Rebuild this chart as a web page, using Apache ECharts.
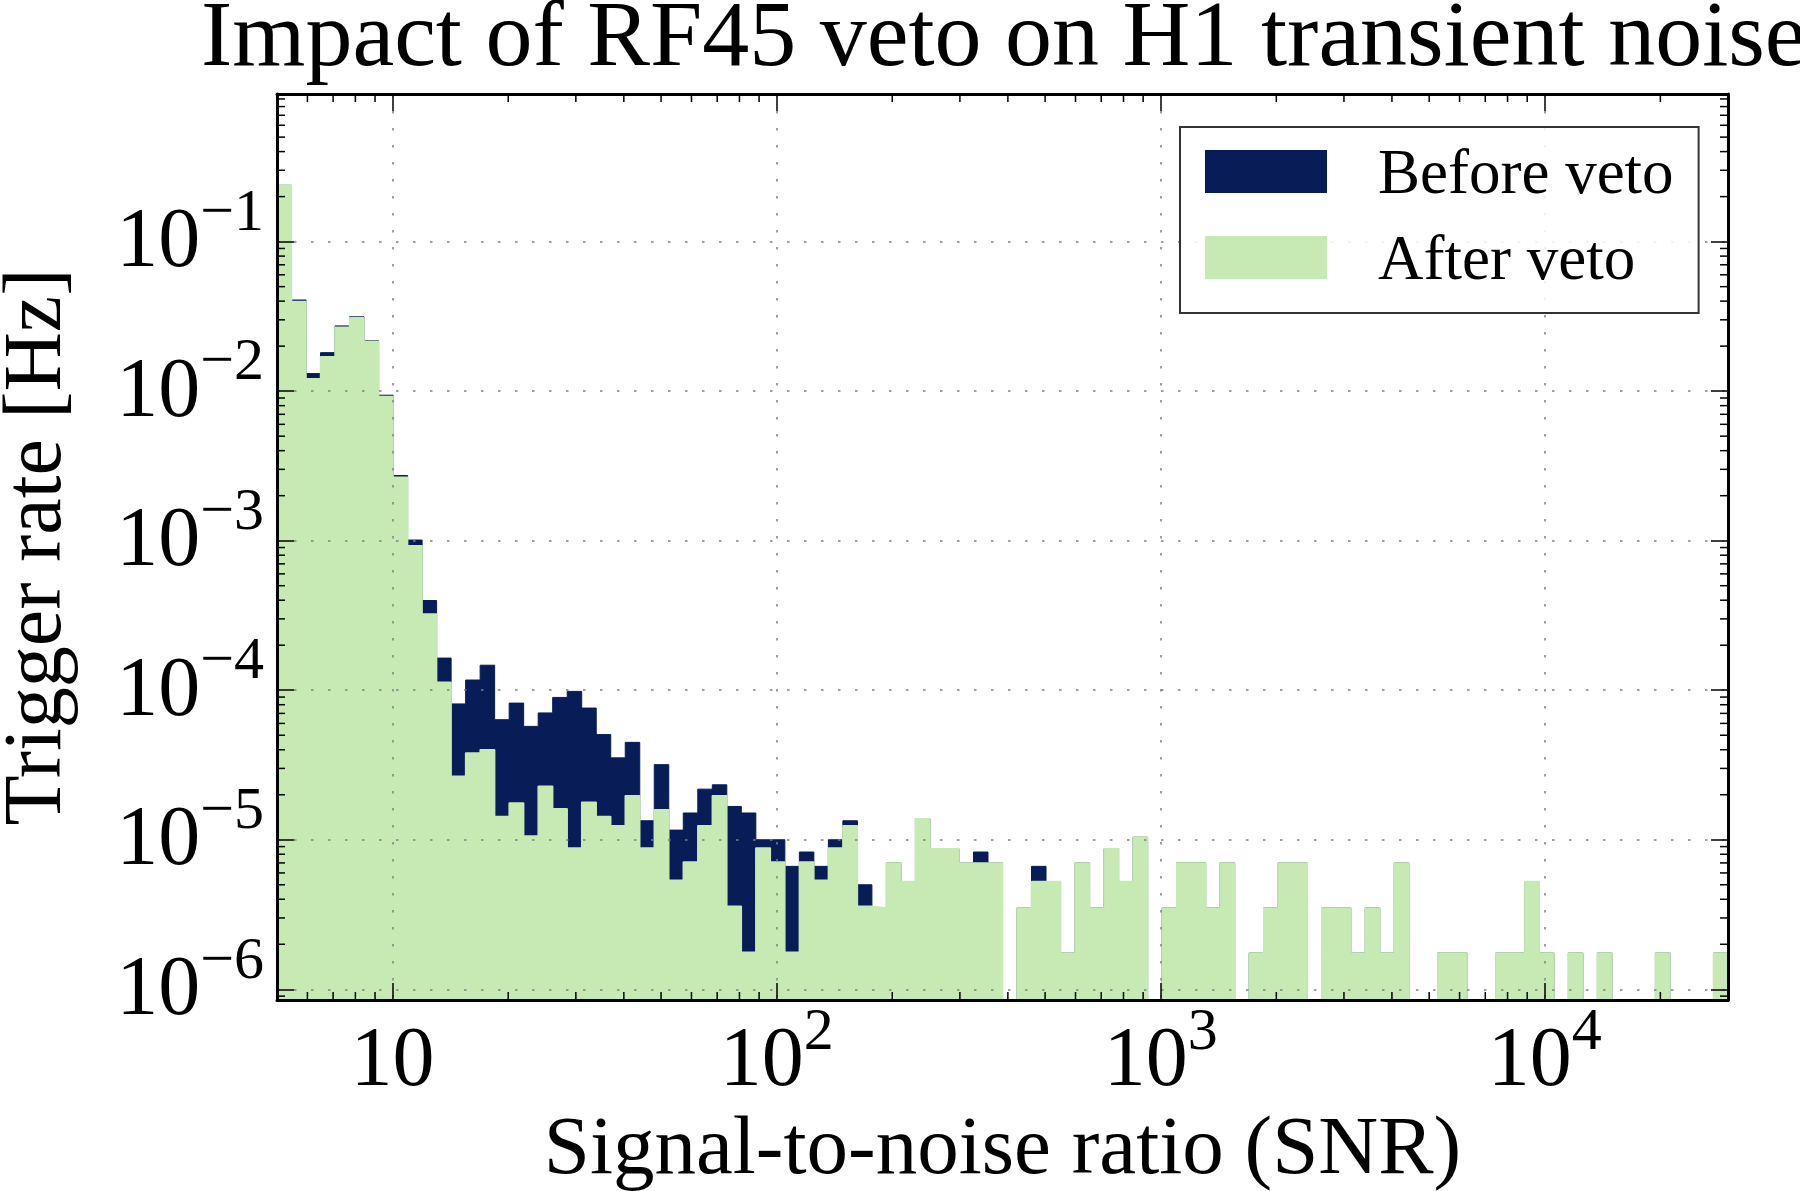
<!DOCTYPE html>
<html>
<head>
<meta charset="utf-8">
<script src="https://cdn.jsdelivr.net/npm/echarts@6/dist/echarts.min.js"></script>
<style>
html,body{margin:0;padding:0;background:#fff;}
#chart{width:1800px;height:1191px;}
</style>
</head>
<body>
<div id="chart"></div>
<script>
// ---- data ----
const TITLE = 'Impact of RF45 veto on H1 transient noise';
const X_NAME = 'Signal-to-noise ratio (SNR)';
const Y_NAME = 'Trigger rate [Hz]';
const SERIES_NAMES = ['Before veto', 'After veto'];

// histogram binning: 100 log-spaced bins over the SNR range
const SNR_MIN = 5;
const SNR_MAX = 30000;
const N_BINS = 100;

// trigger rate per bin [Hz], before the veto
const BEFORE = [
  0.238, 0.0407, 0.0131, 0.0181, 0.0273, 0.0314, 0.0218, 0.0094, 0.00273, 0.00101,
  3.98e-4, 1.64e-4, 8.1e-5, 1.17e-4, 1.47e-4, 6.35e-5, 8.2e-5, 5.73e-5, 7.05e-5, 8.95e-5,
  9.82e-5, 7.6e-5, 5.05e-5, 3.53e-5, 4.48e-5, 1.34e-5, 3.18e-5, 1.16e-5, 1.51e-5, 2.18e-5,
  2.33e-5, 1.67e-5, 1.51e-5, 1.0e-5, 1.0e-5, 6.64e-6, 8.28e-6, 6.64e-6, 1.0e-5, 1.34e-5,
  5.0e-6, 3.5e-6, 7.0e-6, 5.25e-6, 1.38e-5, 8.7e-6, 8.7e-6, 7.0e-6, 8.28e-6, 7.0e-6,
  0, 3.5e-6, 6.64e-6, 5.25e-6, 1.75e-6, 7.0e-6, 3.5e-6, 8.7e-6, 5.25e-6, 1.04e-5,
  0, 3.5e-6, 7.0e-6, 7.0e-6, 3.5e-6, 7.0e-6, 0, 1.75e-6, 3.5e-6, 7.0e-6,
  7.0e-6, 0, 3.5e-6, 3.5e-6, 1.75e-6, 3.5e-6, 1.75e-6, 7.0e-6, 0, 0,
  1.75e-6, 1.75e-6, 0, 0, 1.75e-6, 1.75e-6, 5.25e-6, 1.75e-6, 0, 1.75e-6,
  0, 1.75e-6, 0, 0, 0, 1.75e-6, 0, 0, 0, 1.75e-6
];

// trigger rate per bin [Hz], after the veto
const AFTER = [
  0.238, 0.0397, 0.0121, 0.0170, 0.0268, 0.0310, 0.0216, 0.0092, 0.00266, 0.000925,
  3.24e-4, 1.13e-4, 2.66e-5, 3.8e-5, 4.0e-5, 1.43e-5, 1.76e-5, 1.06e-5, 2.28e-5, 1.61e-5,
  8.8e-6, 1.78e-5, 1.43e-5, 1.24e-5, 1.97e-5, 8.8e-6, 1.59e-5, 5.36e-6, 7.1e-6, 1.24e-5,
  1.97e-5, 3.59e-6, 1.77e-6, 8.8e-6, 7.1e-6, 1.77e-6, 7.1e-6, 5.36e-6, 8.8e-6, 1.24e-5,
  3.59e-6, 3.5e-6, 7.0e-6, 5.25e-6, 1.38e-5, 8.7e-6, 8.7e-6, 7.0e-6, 7.0e-6, 7.0e-6,
  0, 3.5e-6, 5.25e-6, 5.25e-6, 1.75e-6, 7.0e-6, 3.5e-6, 8.7e-6, 5.25e-6, 1.04e-5,
  0, 3.5e-6, 7.0e-6, 7.0e-6, 3.5e-6, 7.0e-6, 0, 1.75e-6, 3.5e-6, 7.0e-6,
  7.0e-6, 0, 3.5e-6, 3.5e-6, 1.75e-6, 3.5e-6, 1.75e-6, 7.0e-6, 0, 0,
  1.75e-6, 1.75e-6, 0, 0, 1.75e-6, 1.75e-6, 5.25e-6, 1.75e-6, 0, 1.75e-6,
  0, 1.75e-6, 0, 0, 0, 1.75e-6, 0, 0, 0, 1.75e-6
];

// axis ranges and ticks
const X_RANGE = [5, 30000];
const Y_RANGE = [8.48e-7, 0.971];
const X_MINOR_TICKS = [6, 7, 8, 9, 20, 30, 40, 50, 60, 70, 80, 90,
  200, 300, 400, 500, 600, 700, 800, 900,
  2000, 3000, 4000, 5000, 6000, 7000, 8000, 9000, 20000];
const Y_MINOR_TICKS = [9e-7,
  2e-6, 3e-6, 4e-6, 5e-6, 6e-6, 7e-6, 8e-6, 9e-6,
  2e-5, 3e-5, 4e-5, 5e-5, 6e-5, 7e-5, 8e-5, 9e-5,
  2e-4, 3e-4, 4e-4, 5e-4, 6e-4, 7e-4, 8e-4, 9e-4,
  2e-3, 3e-3, 4e-3, 5e-3, 6e-3, 7e-3, 8e-3, 9e-3,
  2e-2, 3e-2, 4e-2, 5e-2, 6e-2, 7e-2, 8e-2, 9e-2,
  0.2, 0.3, 0.4, 0.5, 0.6, 0.7, 0.8, 0.9];

// ---- build ----
const FONT = "'Liberation Serif','DejaVu Serif',serif";
const NAVY = '#081d58';
const GREEN = '#c7e9b4';
const FLOOR = 1e-12; // empty bins fall below the axis and are clipped

const edges = [];
for (let k = 0; k <= N_BINS; k++) {
  edges.push(SNR_MIN * Math.pow(SNR_MAX / SNR_MIN, k / N_BINS));
}
function stepData(vals) {
  const out = vals.map((v, k) => [edges[k], v > 0 ? v : FLOOR]);
  const last = vals[vals.length - 1];
  out.push([edges[N_BINS], last > 0 ? last : FLOOR]);
  return out;
}
function isPow10(v) {
  const e = Math.log10(v);
  return Math.abs(e - Math.round(e)) < 1e-6;
}
const rich = {
  b: { fontFamily: FONT, fontSize: 84, lineHeight: 102, verticalAlign: 'bottom', color: '#000' },
  s: { fontFamily: FONT, fontSize: 60, lineHeight: 60, verticalAlign: 'top', color: '#000' }
};
function xLabel(v) {
  if (!isPow10(v)) return '';
  const e = Math.round(Math.log10(v));
  return e === 1 ? '{b|10}' : '{b|10}{s|' + e + '}';
}
function yLabel(v) {
  if (!isPow10(v)) return '';
  const e = Math.round(Math.log10(v));
  return '{b|10}{s|' + (e < 0 ? '\u2212' + (-e) : e) + '}';
}

const axisLine = { show: true, onZero: false, lineStyle: { color: '#000', width: 3 } };
const majorTick = { show: true, inside: true, length: 17, lineStyle: { color: '#000', width: 1.5 } };
const gridLine = { show: true, lineStyle: { color: '#808080', width: 1.5, type: [2.5, 14.5] } };

const chart = echarts.init(document.getElementById('chart'), null, { renderer: 'canvas' });

const option = {
  animation: false,
  backgroundColor: '#fff',
  title: {
    text: TITLE,
    left: 196,
    top: -12,
    textStyle: { fontFamily: FONT, fontSize: 94, fontWeight: 'normal', color: '#000', lineHeight: 94 }
  },
  legend: {
    data: SERIES_NAMES,
    orient: 'vertical',
    left: 1180,
    top: 127,
    icon: 'rect',
    itemWidth: 122,
    itemHeight: 43,
    itemGap: 13,
    padding: [8, 25, 19, 25],
    borderColor: '#333',
    borderWidth: 2,
    borderRadius: 0,
    backgroundColor: 'rgba(255,255,255,0.85)',
    z: 20,
    selectedMode: false,
    formatter: function (name) { return '{t|' + name + '}'; },
    textStyle: {
      fontFamily: FONT, fontSize: 63, color: '#000',
      rich: { t: { fontFamily: FONT, fontSize: 63, color: '#000', lineHeight: 63, padding: [10, 0, 0, 46] } }
    }
  },
  grid: { left: 277, right: 72, top: 94, bottom: 191, containLabel: false, outerBoundsMode: 'none' },
  xAxis: [
    {
      type: 'log', logBase: 10, min: X_RANGE[0], max: X_RANGE[1], position: 'bottom', z: 10,
      name: X_NAME, nameLocation: 'middle', nameGap: 74,
      nameTextStyle: { fontFamily: FONT, fontSize: 83, color: '#000' },
      axisLine: axisLine, axisTick: majorTick, splitLine: gridLine, minorTick: { show: false },
      axisLabel: { formatter: xLabel, rich: rich, margin: 3, showMinLabel: false, showMaxLabel: false, hideOverlap: false }
    },
    {
      type: 'log', logBase: 10, min: X_RANGE[0], max: X_RANGE[1], position: 'top', z: 10,
      axisLine: axisLine, axisTick: majorTick, splitLine: { show: false }, axisLabel: { show: false }
    }
  ],
  yAxis: [
    {
      type: 'log', logBase: 10, min: Y_RANGE[0], max: Y_RANGE[1], position: 'left', z: 10,
      name: Y_NAME, nameLocation: 'middle', nameGap: 198, nameRotate: 90,
      nameTextStyle: { fontFamily: FONT, fontSize: 82, color: '#000' },
      axisLine: axisLine, axisTick: majorTick, splitLine: gridLine,
      axisLabel: { formatter: yLabel, rich: rich, margin: 13, padding: [0, 0, 13, 0], showMinLabel: false, showMaxLabel: false, hideOverlap: false }
    },
    {
      type: 'log', logBase: 10, min: Y_RANGE[0], max: Y_RANGE[1], position: 'right', z: 10,
      axisLine: axisLine, axisTick: majorTick, splitLine: { show: false }, axisLabel: { show: false }
    }
  ],
  series: [
    {
      name: SERIES_NAMES[0], type: 'line', step: 'end', data: stepData(BEFORE),
      xAxisIndex: 0, yAxisIndex: 0, showSymbol: false, symbol: 'none', clip: true, z: 2,
      color: NAVY, itemStyle: { color: NAVY },
      lineStyle: { color: NAVY, width: 1 },
      areaStyle: { color: NAVY, opacity: 1, origin: 'start' },
      emphasis: { disabled: true }
    },
    {
      name: SERIES_NAMES[1], type: 'line', step: 'end', data: stepData(AFTER),
      xAxisIndex: 0, yAxisIndex: 0, showSymbol: false, symbol: 'none', clip: true, z: 3,
      color: GREEN, itemStyle: { color: GREEN },
      lineStyle: { color: GREEN, width: 1.5 },
      areaStyle: { color: GREEN, opacity: 1, origin: 'start' },
      emphasis: { disabled: true }
    },
    {
      name: 'xminor', type: 'custom', z: 12, silent: true,
      xAxisIndex: 0, yAxisIndex: 0,
      data: X_MINOR_TICKS.map(v => [v, 1e-3]),
      encode: { x: 0, y: 1 },
      renderItem: function (params, api) {
        const cs = params.coordSys;
        const px = api.coord([api.value(0), 1e-3])[0];
        const st = { stroke: '#000', lineWidth: 1.5 };
        return { type: 'group', children: [
          { type: 'line', shape: { x1: px, y1: cs.y + cs.height, x2: px, y2: cs.y + cs.height - 8 }, style: st },
          { type: 'line', shape: { x1: px, y1: cs.y, x2: px, y2: cs.y + 8 }, style: st }
        ] };
      }
    },
    {
      name: 'yminor', type: 'custom', z: 12, silent: true,
      xAxisIndex: 0, yAxisIndex: 0,
      data: Y_MINOR_TICKS.map(v => [100, v]),
      encode: { x: 0, y: 1 },
      renderItem: function (params, api) {
        const cs = params.coordSys;
        const py = api.coord([100, api.value(1)])[1];
        const st = { stroke: '#000', lineWidth: 1.5 };
        return { type: 'group', children: [
          { type: 'line', shape: { x1: cs.x, y1: py, x2: cs.x + 8, y2: py }, style: st },
          { type: 'line', shape: { x1: cs.x + cs.width, y1: py, x2: cs.x + cs.width - 8, y2: py }, style: st }
        ] };
      }
    }
  ]
};
chart.setOption(option);
</script>
</body>
</html>
